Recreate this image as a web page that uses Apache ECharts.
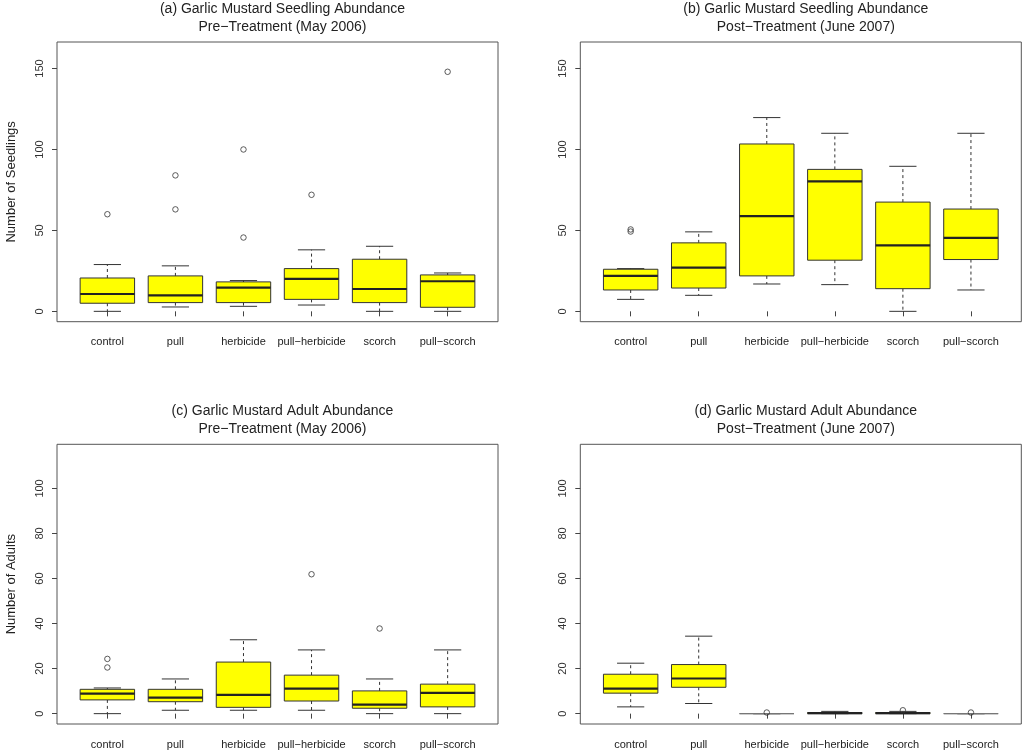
<!DOCTYPE html>
<html>
<head>
<meta charset="utf-8">
<script src="https://cdn.jsdelivr.net/npm/echarts@6/dist/echarts.min.js"></script>
<style>
html,body{margin:0;padding:0;background:#fff;}
#chart{width:1024px;height:753px;}
</style>
</head>
<body>
<div id="chart"></div>
<script>
// ---------- data ----------
const categories = ['control', 'pull', 'herbicide', 'pull\u2212herbicide', 'scorch', 'pull\u2212scorch'];

// box stats per category: [min whisker, Q1, median, Q3, max whisker]
const seedPreStats = [
  [0, 5.0, 10.7, 20.6, 28.9],
  [2.7, 5.4, 9.9, 21.9, 28.1],
  [3.1, 5.4, 14.7, 18.2, 19.0],
  [3.9, 7.4, 20.0, 26.4, 38.0],
  [0, 5.4, 13.8, 32.2, 40.2],
  [0, 2.5, 18.6, 22.5, 23.7]
];
const seedPreOut = [[60], [84, 63], [100, 45.6], [72], [], [148]];

const seedPostStats = [
  [7.4, 13.2, 21.9, 26.0, 26.4],
  [9.9, 14.4, 27.0, 42.3, 49.1],
  [16.9, 21.9, 58.8, 103.4, 119.7],
  [16.5, 31.6, 80.3, 87.7, 110.0],
  [0, 14.0, 40.7, 67.5, 89.6],
  [13.2, 32.0, 45.4, 63.2, 110.0]
];
const seedPostOut = [[49.3, 50.6], [], [], [], [], []];

const adultPreStats = [
  [0, 6.1, 8.9, 10.8, 11.4],
  [1.5, 5.3, 7.1, 10.8, 15.4],
  [1.5, 2.8, 8.3, 22.9, 32.8],
  [1.5, 5.6, 11.1, 17.1, 28.3],
  [0, 2.4, 4.0, 10.1, 15.4],
  [0, 3.0, 9.2, 13.1, 28.3]
];
const adultPreOut = [[24.3, 20.5], [], [], [61.9], [37.8], []];

const adultPostStats = [
  [3.0, 9.1, 11.1, 17.5, 22.4],
  [4.5, 11.7, 15.6, 21.8, 34.4],
  [0, 0, 0, 0, 0],
  [0, 0, 0.25, 0.5, 1],
  [0, 0, 0.25, 0.5, 1],
  [0, 0, 0, 0, 0]
];
const adultPostOut = [[], [], [0.5], [], [1.5], [0.5]];

const seedTicks = [0, 50, 100, 150];
const adultTicks = [0, 20, 40, 60, 80, 100];

const panelTitles = [
  '(a) Garlic Mustard Seedling Abundance\nPre\u2212Treatment (May 2006)',
  '(b) Garlic Mustard Seedling Abundance\nPost\u2212Treatment (June 2007)',
  '(c) Garlic Mustard Adult Abundance\nPre\u2212Treatment (May 2006)',
  '(d) Garlic Mustard Adult Abundance\nPost\u2212Treatment (June 2007)'
];

// ---------- layout ----------
const FONT = "'Liberation Sans', Arial, Helvetica, sans-serif";
const panels = [
  { stats: seedPreStats,  out: seedPreOut,  ticks: seedTicks,  ymin: -6.4, ymax: 166.4, name: 'Number of Seedlings', left: 57,    top: 42 },
  { stats: seedPostStats, out: seedPostOut, ticks: seedTicks,  ymin: -6.4, ymax: 166.4, name: '',                    left: 580.3, top: 42 },
  { stats: adultPreStats, out: adultPreOut, ticks: adultTicks, ymin: -4.6, ymax: 119.6, name: 'Number of Adults',    left: 57,    top: 444.3 },
  { stats: adultPostStats,out: adultPostOut,ticks: adultTicks, ymin: -4.6, ymax: 119.6, name: '',                    left: 580.3, top: 444.3 }
];
const PW = 441, PH = 279.7;
const positions = categories.map((c, i) => i + 1);

function renderBox(params, api) {
  const x = api.value(0);
  const mn = api.value(1), q1 = api.value(2), md = api.value(3), q3 = api.value(4), mx = api.value(5);
  const w = api.size([0.8, 0])[0];
  const hw = w / 2, sw = w / 4;
  const pMin = api.coord([x, mn]), pQ1 = api.coord([x, q1]), pMd = api.coord([x, md]);
  const pQ3 = api.coord([x, q3]), pMax = api.coord([x, mx]);
  const cx = pMd[0];
  const dash = { stroke: '#333', lineWidth: 1, lineDash: [3, 3] };
  const solid = { stroke: '#333', lineWidth: 1 };
  const flat = (q3 - q1) === 0;
  return {
    type: 'group',
    children: [
      { type: 'line', shape: { x1: cx, y1: pQ3[1], x2: cx, y2: pMax[1] }, style: dash },
      { type: 'line', shape: { x1: cx, y1: pQ1[1], x2: cx, y2: pMin[1] }, style: dash },
      { type: 'line', shape: { x1: cx - sw, y1: pMax[1], x2: cx + sw, y2: pMax[1] }, style: solid },
      { type: 'line', shape: { x1: cx - sw, y1: pMin[1], x2: cx + sw, y2: pMin[1] }, style: solid },
      { type: 'rect', shape: { x: cx - hw, y: pQ3[1], width: w, height: pQ1[1] - pQ3[1] },
        style: { fill: '#ffff00', stroke: flat ? '#777' : '#333', lineWidth: 1 } },
      { type: 'line', shape: { x1: cx - hw, y1: pMd[1], x2: cx + hw, y2: pMd[1] },
        style: { stroke: flat ? '#777' : '#222', lineWidth: flat ? 1 : 2.2 } }
    ]
  };
}

const option = {
  animation: false,
  backgroundColor: '#fff',
  textStyle: { fontFamily: FONT },
  title: panels.map((p, i) => ({
    text: panelTitles[i],
    left: p.left + PW / 2,
    top: p.top - 46.5,
    textAlign: 'center',
    textStyle: { fontFamily: FONT, fontSize: 14, fontWeight: 'normal', color: '#222', lineHeight: 17.5 }
  })),
  grid: panels.map(p => ({
    left: p.left, top: p.top, width: PW, height: PH,
    show: true, borderColor: '#555', borderWidth: 1, backgroundColor: 'transparent'
  })),
  xAxis: panels.map((p, i) => ({
    type: 'value', gridIndex: i, min: 0.26, max: 6.74,
    axisLine: { show: false }, splitLine: { show: false },
    axisTick: { show: true, customValues: positions, length: 5, lineStyle: { color: '#444' } },
    axisLabel: {
      customValues: positions, margin: 15, fontSize: 11, color: '#222', fontFamily: FONT,
      formatter: v => categories[Math.round(v) - 1]
    }
  })),
  yAxis: panels.map((p, i) => ({
    type: 'value', gridIndex: i, min: p.ymin, max: p.ymax,
    axisLine: { show: false }, splitLine: { show: false },
    axisTick: { show: true, customValues: p.ticks, length: 5, lineStyle: { color: '#444' } },
    axisLabel: { customValues: p.ticks, rotate: 90, margin: 12, fontSize: 11, color: '#333', fontFamily: FONT },
    name: p.name, nameLocation: 'middle', nameGap: 39,
    nameTextStyle: { fontSize: 13, color: '#222', fontFamily: FONT }
  })),
  series: [].concat(
    panels.map((p, i) => ({
      type: 'custom', xAxisIndex: i, yAxisIndex: i,
      renderItem: renderBox,
      encode: { x: 0, y: [1, 2, 3, 4, 5] },
      data: p.stats.map((s, k) => [positions[k]].concat(s))
    })),
    panels.map((p, i) => ({
      type: 'scatter', xAxisIndex: i, yAxisIndex: i,
      symbol: 'circle', symbolSize: 5.5,
      itemStyle: { color: 'rgba(255,255,255,0)', borderColor: '#333', borderWidth: 1 },
      data: [].concat(...p.out.map((vals, k) => vals.map(v => [positions[k], v]))),
      z: 5
    }))
  )
};

const chart = echarts.init(document.getElementById('chart'), null, { renderer: 'canvas' });
chart.setOption(option);
</script>
</body>
</html>
